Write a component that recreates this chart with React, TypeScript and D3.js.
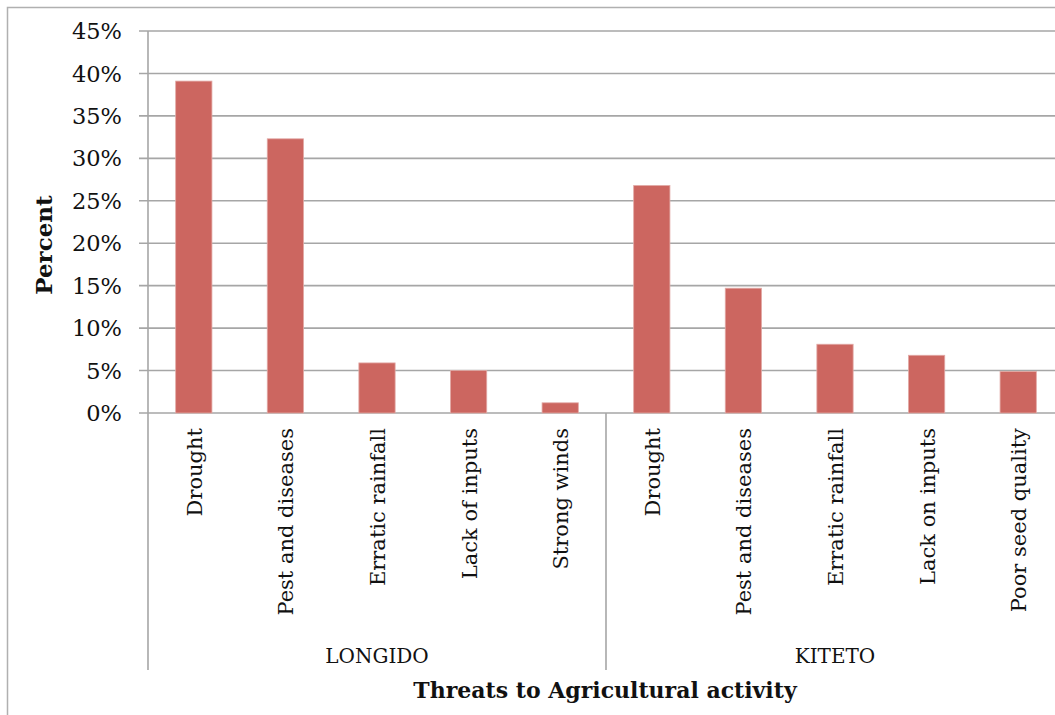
import React from "react";
import * as d3 from "d3";

// Share of respondents naming each threat, by district
const groups = ["LONGIDO", "KITETO"];
const longidoThreats = ["Drought", "Pest and diseases", "Erratic rainfall", "Lack of inputs", "Strong winds"];
const longidoValues = [0.391, 0.323, 0.059, 0.05, 0.012];
const kitetoThreats = ["Drought", "Pest and diseases", "Erratic rainfall", "Lack on inputs", "Poor seed quality"];
const kitetoValues = [0.268, 0.147, 0.081, 0.068, 0.049];
const yTicks = [0, 0.05, 0.1, 0.15, 0.2, 0.25, 0.3, 0.35, 0.4, 0.45];

const W = 1055;
const H = 715;
const left = 148;
const right = 1064;
const top = 31;
const base = 413;
const axisBottom = 670;
const font = "'DejaVu Serif', 'Liberation Serif', serif";
const grid = "#a6a6a6";
const barFill = "#cc6660";

type Row = { key: string; group: string; label: string; value: number };

const rows: Row[] = [
  ...longidoThreats.map((label, i) => ({ key: `L${i}`, group: groups[0], label, value: longidoValues[i] })),
  ...kitetoThreats.map((label, i) => ({ key: `K${i}`, group: groups[1], label, value: kitetoValues[i] })),
];

export default function App() {
  const x = d3
    .scaleBand<string>()
    .domain(rows.map((r) => r.key))
    .range([left, right])
    .paddingInner(0.604)
    .paddingOuter(0.302);
  const y = d3.scaleLinear().domain([0, 0.45]).range([base, top]);
  const fmt = d3.format(".0%");
  const step = x.step();

  const groupBounds = groups.map((g) => {
    const keys = rows.filter((r) => r.group === g).map((r) => r.key);
    const x0 = x(keys[0])! - (step * 0.604) / 2;
    const x1 = x(keys[keys.length - 1])! + x.bandwidth() + (step * 0.604) / 2;
    return { g, x0, x1 };
  });

  return (
    <svg width={W} height={H} style={{ display: "block", position: "absolute", left: 0, top: 0 }}>
      <rect x={0} y={0} width={W} height={H} fill="#fff" />
      <rect x={7.5} y={7.5} width={W + 20} height={H + 20} fill="none" stroke="#b0b0b0" strokeWidth={1.5} />

      {/* horizontal gridlines and value ticks */}
      {yTicks.map((t) => (
        <g key={t}>
          <line x1={139} x2={right} y1={y(t)} y2={y(t)} stroke={grid} strokeWidth={1.6} />
          <text
            x={122}
            y={y(t)}
            dy="0.36em"
            textAnchor="end"
            fontFamily={font}
            fontSize={22.5}
            fill="#111"
          >
            {fmt(t)}
          </text>
        </g>
      ))}

      {/* value axis line */}
      <line x1={left} x2={left} y1={top} y2={base} stroke={grid} strokeWidth={1.6} />

      {/* bars */}
      {rows.map((r) => (
        <rect
          key={r.key}
          x={x(r.key)}
          y={y(r.value)}
          width={x.bandwidth()}
          height={base - y(r.value)}
          fill={barFill}
          stroke="#e2aaa6"
          strokeWidth={0.8}
        />
      ))}

      {/* group separators below the category axis */}
      {groupBounds.map((b, i) => (
        <g key={b.g}>
          {i === 0 && (
            <line x1={b.x0} x2={b.x0} y1={base} y2={axisBottom} stroke={grid} strokeWidth={1.6} />
          )}
          <line x1={b.x1} x2={b.x1} y1={base} y2={axisBottom} stroke={grid} strokeWidth={1.6} />
          <text
            x={(b.x0 + b.x1) / 2}
            y={663}
            textAnchor="middle"
            fontFamily={font}
            fontSize={20}
            fill="#111"
          >
            {b.g}
          </text>
        </g>
      ))}

      {/* category labels */}
      {rows.map((r) => {
        const cx = x(r.key)! + x.bandwidth() / 2;
        return (
          <text
            key={r.key}
            transform={`translate(${cx + 1},${428}) rotate(-90)`}
            textAnchor="end"
            dominantBaseline="central"
            fontFamily={font}
            fontSize={21}
            fill="#111"
          >
            {r.label}
          </text>
        );
      })}

      {/* axis titles */}
      <text
        transform={`translate(${43},${245}) rotate(-90)`}
        textAnchor="middle"
        dominantBaseline="central"
        fontFamily={font}
        fontWeight="bold"
        fontSize={23}
        fill="#111"
      >
        Percent
      </text>
      <text
        x={605}
        y={698}
        textAnchor="middle"
        fontFamily={font}
        fontWeight="bold"
        fontSize={22}
        fill="#111"
      >
        Threats to Agricultural activity
      </text>
    </svg>
  );
}
